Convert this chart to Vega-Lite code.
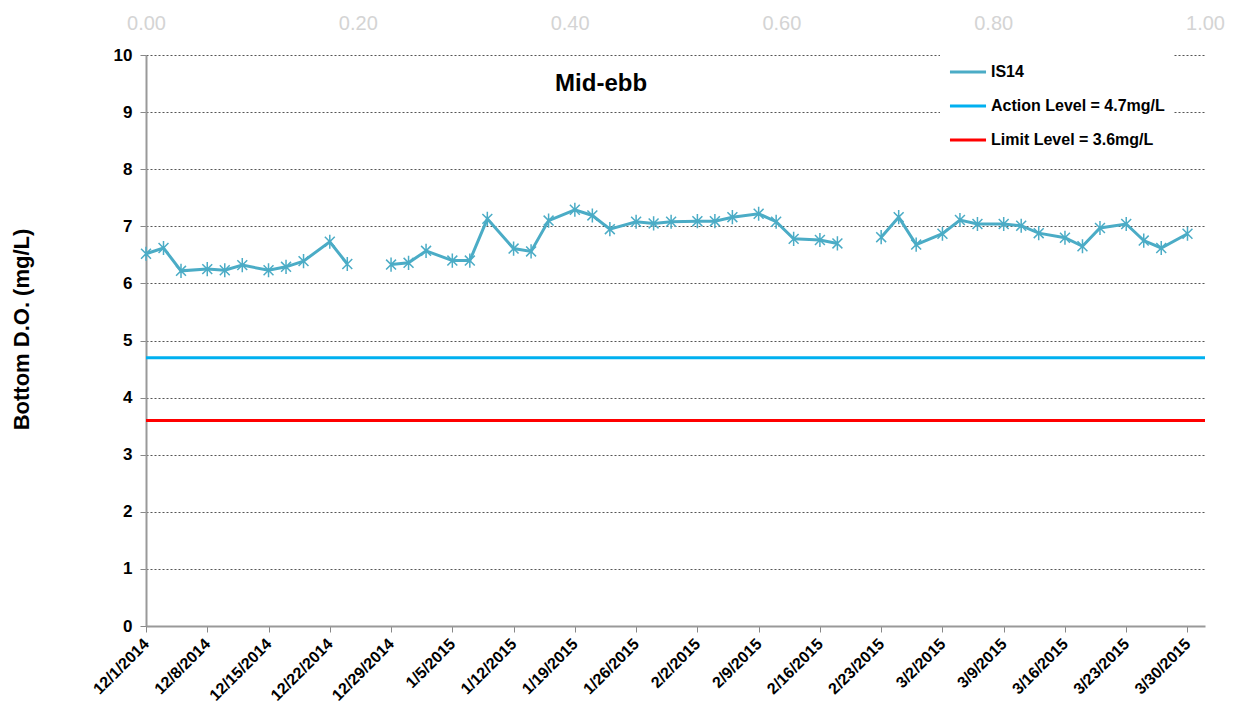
{
  "$schema": "https://vega.github.io/schema/vega-lite/v6.json",
  "width": 1059,
  "height": 571,
  "autosize": "none",
  "padding": {"left": 146, "top": 55, "right": 39, "bottom": 94},
  "background": "white",
  "config": {"font": "Liberation Sans", "view": {"stroke": null}},
  "datasets": {
    "is14": [
      {"date": "2014/12/01", "do": 6.52},
      {"date": "2014/12/03", "do": 6.62},
      {"date": "2014/12/05", "do": 6.22},
      {"date": "2014/12/08", "do": 6.25},
      {"date": "2014/12/10", "do": 6.23},
      {"date": "2014/12/12", "do": 6.32},
      {"date": "2014/12/15", "do": 6.23},
      {"date": "2014/12/17", "do": 6.29},
      {"date": "2014/12/19", "do": 6.39},
      {"date": "2014/12/22", "do": 6.73},
      {"date": "2014/12/24", "do": 6.34},
      {"date": "2014/12/26", "do": null},
      {"date": "2014/12/29", "do": 6.33},
      {"date": "2014/12/31", "do": 6.36},
      {"date": "2015/01/02", "do": 6.57},
      {"date": "2015/01/05", "do": 6.40},
      {"date": "2015/01/07", "do": 6.40},
      {"date": "2015/01/09", "do": 7.13},
      {"date": "2015/01/12", "do": 6.61},
      {"date": "2015/01/14", "do": 6.56},
      {"date": "2015/01/16", "do": 7.10},
      {"date": "2015/01/19", "do": 7.29},
      {"date": "2015/01/21", "do": 7.19},
      {"date": "2015/01/23", "do": 6.95},
      {"date": "2015/01/26", "do": 7.08},
      {"date": "2015/01/28", "do": 7.05},
      {"date": "2015/01/30", "do": 7.08},
      {"date": "2015/02/02", "do": 7.09},
      {"date": "2015/02/04", "do": 7.09},
      {"date": "2015/02/06", "do": 7.16},
      {"date": "2015/02/09", "do": 7.22},
      {"date": "2015/02/11", "do": 7.08},
      {"date": "2015/02/13", "do": 6.78},
      {"date": "2015/02/16", "do": 6.76},
      {"date": "2015/02/18", "do": 6.70},
      {"date": "2015/02/20", "do": null},
      {"date": "2015/02/23", "do": 6.81},
      {"date": "2015/02/25", "do": 7.16},
      {"date": "2015/02/27", "do": 6.68},
      {"date": "2015/03/02", "do": 6.87},
      {"date": "2015/03/04", "do": 7.11},
      {"date": "2015/03/06", "do": 7.04},
      {"date": "2015/03/09", "do": 7.04},
      {"date": "2015/03/11", "do": 7.01},
      {"date": "2015/03/13", "do": 6.88},
      {"date": "2015/03/16", "do": 6.80},
      {"date": "2015/03/18", "do": 6.65},
      {"date": "2015/03/20", "do": 6.97},
      {"date": "2015/03/23", "do": 7.04},
      {"date": "2015/03/25", "do": 6.75},
      {"date": "2015/03/27", "do": 6.62},
      {"date": "2015/03/30", "do": 6.87}
    ],
    "levels": [
      {"name": "Action Level = 4.7mg/L", "level": 4.7},
      {"name": "Limit Level = 3.6mg/L", "level": 3.6}
    ],
    "topaxis": [{"f": 0}, {"f": 1}],
    "title": [{"label": "Mid-ebb"}]
  },
  "layer": [
    {
      "data": {"name": "topaxis"},
      "mark": {"type": "point", "opacity": 0},
      "encoding": {
        "x": {
          "field": "f",
          "type": "quantitative",
          "scale": {"domain": [0, 1], "nice": false, "zero": false},
          "axis": {
            "orient": "top",
            "values": [0, 0.2, 0.4, 0.6, 0.8, 1],
            "format": ".2f",
            "labelColor": "#d4d4d4",
            "labelFontSize": 20,
            "labelPadding": 22,
            "labelFlush": false,
            "domain": false,
            "ticks": false,
            "grid": false,
            "title": null
          }
        }
      }
    },
    {
      "layer": [
        {
          "data": {"name": "levels"},
          "mark": {"type": "rule", "strokeWidth": 3},
          "encoding": {
            "y": {"field": "level", "type": "quantitative"},
            "color": {
              "field": "name",
              "type": "nominal",
              "scale": {
                "domain": ["IS14", "Action Level = 4.7mg/L", "Limit Level = 3.6mg/L"],
                "range": ["#4BACC6", "#00B0F0", "#FF0000"]
              },
              "legend": {
                "title": null,
                "orient": "none",
                "legendX": 794,
                "legendY": -11,
                "fillColor": "white",
                "padding": 8,
                "symbolType": "stroke",
                "symbolSize": 1300,
                "symbolStrokeWidth": 3,
                "labelFontSize": 16,
                "labelFontWeight": "bold",
                "labelColor": "black",
                "labelLimit": 300,
                "rowPadding": 6,
                "labelOffset": 3
              }
            }
          }
        },
        {
          "data": {"name": "is14"},
          "mark": {"type": "line", "strokeWidth": 3},
          "encoding": {
            "x": {
              "field": "date",
              "type": "temporal",
              "scale": {"domain": [{"year": 2014, "month": 12, "date": 1}, {"year": 2015, "month": 4, "date": 1}]},
              "axis": {
                "orient": "bottom",
                "values": [
                  {"year": 2014, "month": 12, "date": 1},
                  {"year": 2014, "month": 12, "date": 8},
                  {"year": 2014, "month": 12, "date": 15},
                  {"year": 2014, "month": 12, "date": 22},
                  {"year": 2014, "month": 12, "date": 29},
                  {"year": 2015, "month": 1, "date": 5},
                  {"year": 2015, "month": 1, "date": 12},
                  {"year": 2015, "month": 1, "date": 19},
                  {"year": 2015, "month": 1, "date": 26},
                  {"year": 2015, "month": 2, "date": 2},
                  {"year": 2015, "month": 2, "date": 9},
                  {"year": 2015, "month": 2, "date": 16},
                  {"year": 2015, "month": 2, "date": 23},
                  {"year": 2015, "month": 3, "date": 2},
                  {"year": 2015, "month": 3, "date": 9},
                  {"year": 2015, "month": 3, "date": 16},
                  {"year": 2015, "month": 3, "date": 23},
                  {"year": 2015, "month": 3, "date": 30}
                ],
                "format": "%-m/%-d/%Y",
                "labelAngle": -45,
                "labelAlign": "right",
                "labelBaseline": "middle",
                "labelFontSize": 16,
                "labelFontWeight": "bold",
                "labelColor": "black",
                "labelFlush": false,
                "labelOverlap": false,
                "labelPadding": 9,
                "tickSize": 6,
                "tickColor": "#888",
                "domainColor": "#999",
                "domainWidth": 2,
                "grid": false,
                "title": null
              }
            },
            "y": {
              "field": "do",
              "type": "quantitative",
              "scale": {"domain": [0, 10], "nice": false},
              "axis": {
                "values": [0, 1, 2, 3, 4, 5, 6, 7, 8, 9, 10],
                "format": "d",
                "labelFontSize": 17,
                "labelFontWeight": "bold",
                "labelColor": "black",
                "labelPadding": 8,
                "tickSize": 6,
                "tickColor": "#888",
                "domainColor": "#999",
                "domainWidth": 2,
                "grid": true,
                "gridDash": [2, 2],
                "gridColor": "#555",
                "gridWidth": 1,
                "title": "Bottom  D.O. (mg/L)",
                "titleFontSize": 22,
                "titleFontWeight": "bold",
                "titleColor": "black",
                "titlePadding": 80,
                "titleY": 274
              }
            },
            "color": {"datum": "IS14", "type": "nominal"}
          }
        },
        {
          "data": {"name": "is14"},
          "mark": {
            "type": "point",
            "shape": "M-0.7,-0.7L0.7,0.7M-0.7,0.7L0.7,-0.7M0,-1L0,1",
            "filled": false,
            "color": "#4BACC6",
            "strokeWidth": 1.5,
            "size": 200,
            "opacity": 1
          },
          "encoding": {
            "x": {"field": "date", "type": "temporal"},
            "y": {"field": "do", "type": "quantitative"}
          }
        },
        {
          "data": {"name": "title"},
          "mark": {"type": "text", "fontSize": 24, "fontWeight": "bold", "color": "black", "align": "center", "baseline": "middle"},
          "encoding": {
            "x": {"datum": {"year": 2015, "month": 1, "date": 22}, "type": "temporal"},
            "y": {"datum": 9.5, "type": "quantitative"},
            "text": {"field": "label"}
          }
        }
      ]
    }
  ],
  "resolve": {"scale": {"x": "independent"}, "axis": {"x": "independent"}}
}
